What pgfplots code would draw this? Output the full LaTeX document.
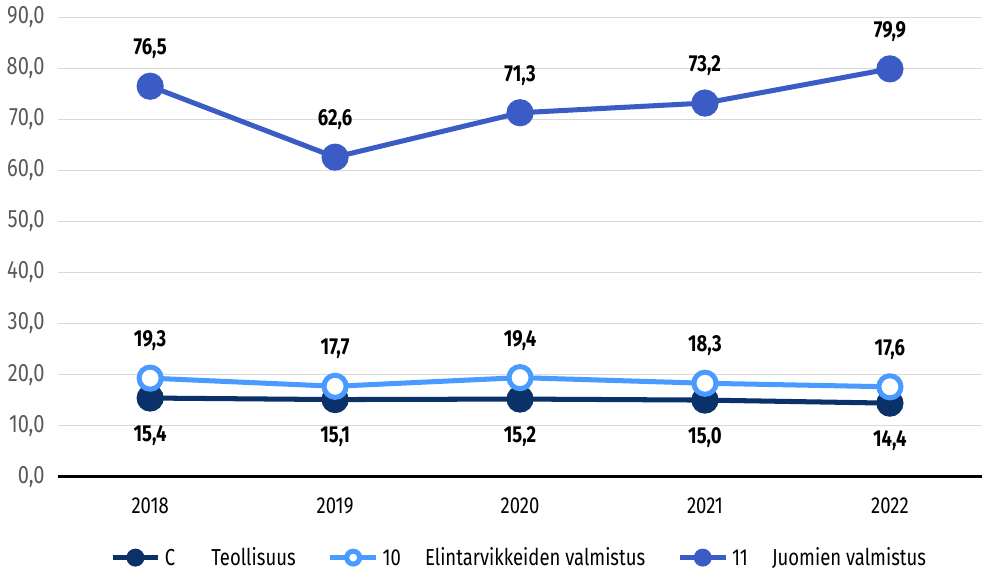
\documentclass[border=0pt]{standalone}
\usepackage{fontspec}
\setmainfont{Fira Sans}[FakeStretch=0.8]
\usepackage{pgfplots}
\pgfplotsset{compat=1.18}

\definecolor{cTeol}{HTML}{0B3169}
\definecolor{cElin}{HTML}{4A9BFF}
\definecolor{cJuom}{HTML}{3A5CC4}
\definecolor{gridc}{HTML}{D9D9D9}
\definecolor{tickc}{HTML}{595959}

\begin{document}
\begin{tikzpicture}
\begin{axis}[
    scale only axis,
    width=460pt, height=228.5pt,
    xmin=-0.5, xmax=4.5,
    ymin=0, ymax=90,
    ytick={0,10,...,90},
    xtick={0,1,2,3,4},
    xticklabels={2018,2019,2020,2021,2022},
    axis x line=bottom,
    axis y line=left,
    x axis line style={black, line width=1.6pt, -},
    y axis line style={draw=none},
    ymajorgrids,
    grid style={gridc, line width=0.8pt},
    major tick length=0pt,
    tick label style={font=\fontsize{11.5}{13}\selectfont},
    xticklabel style={black, yshift=-7pt},
    /pgf/number format/assume math mode=true,
    yticklabel={\pgfmathprintnumber[fixed, fixed zerofill, precision=1, use comma]{\tick}},
    yticklabel style={tickc, xshift=-3pt, font=\fontsize{12.5}{14}\selectfont},
    clip=false,
    nodes near coords,
    every node near coord/.append style={black, font=\bfseries\fontsize{11.5}{13}\selectfont,
        /pgf/number format/fixed, /pgf/number format/fixed zerofill,
        /pgf/number format/precision=1, /pgf/number format/use comma,
        /pgf/number format/assume math mode=true},
    legend columns=3,
    legend style={at={(0.5,-0.135)}, anchor=north, draw=none, fill=none,
        font=\fontsize{11.5}{13}\selectfont,
        /tikz/every even column/.append style={column sep=14pt}},
    legend image code/.code={
        \draw[#1, mark size=3.2pt, mark repeat=2, mark phase=2] plot coordinates {(0cm,0cm) (0.4cm,0cm) (0.8cm,0cm)};
    },
]
\addplot[cTeol, line width=2.5pt, mark=*, mark size=5.5pt,
    every node near coord/.append style={anchor=north, yshift=-9pt}]
    coordinates {(0,15.4) (1,15.1) (2,15.2) (3,15.0) (4,14.4)};
\addlegendentry{C\hspace{18pt}Teollisuus}

\addplot[cElin, line width=2.5pt, mark=*, mark size=5.5pt,
    mark options={fill=white, line width=2.5pt},
    every node near coord/.append style={anchor=south, yshift=9pt}]
    coordinates {(0,19.3) (1,17.7) (2,19.4) (3,18.3) (4,17.6)};
\addlegendentry{10\hspace{12pt}Elintarvikkeiden valmistus}

\addplot[cJuom, line width=2.5pt, mark=*, mark size=5.5pt,
    every node near coord/.append style={anchor=south, yshift=9pt}]
    coordinates {(0,76.5) (1,62.6) (2,71.3) (3,73.2) (4,79.9)};
\addlegendentry{11\hspace{12pt}Juomien valmistus}
\end{axis}
\end{tikzpicture}
\end{document}
